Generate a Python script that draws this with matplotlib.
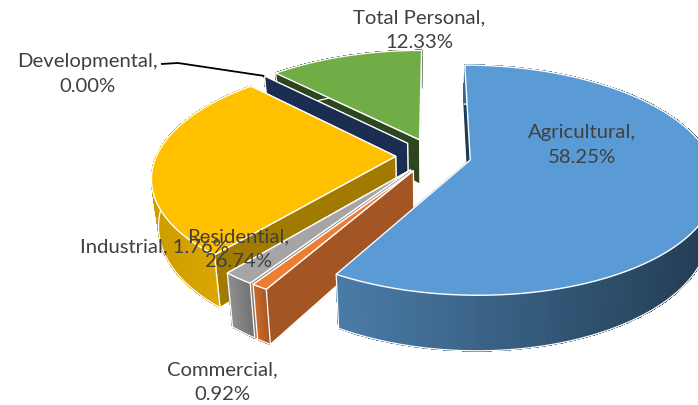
import numpy as np
import matplotlib
matplotlib.use('Agg')
import matplotlib.pyplot as plt
from matplotlib.colors import to_rgb

# pie data, clockwise from the top
names = ['Agricultural', 'Commercial', 'Industrial', 'Residential', 'Developmental', 'Total Personal']
shares = [58.25, 0.92, 1.76, 26.74, 0.00, 12.33]

top_colors = ['#5B9BD5', '#ED7D31', '#A5A5A5', '#FFC000', '#1B2D50', '#70AD47']
side_colors = ['#1F3A52', '#A35623', '#7C7C7C', '#A07B00', '#1B2D50', '#2E4620']
wall_left = ['#4A7BA8', '#C8692A', '#8E8E8E', '#CE9C00', '#1B2D50', '#2E4620']
wall_right = ['#223C52', '#A35623', '#707070', '#E3AC00', '#1B2D50', '#2E4620']

# projection of the tilted pie onto the picture
CX, CY = 433.5, 156.5
R, B = 239.0, 110.0
K = 0.174
D = 45.5
EXPLODE = 0.158


def project(u, v, depth=0.0):
    w = 1 - K * v
    return CX + R * u / w * (1 - 0.025 * depth), CY + B * v / w + depth * D / w


def blend(c1, c2, t):
    a, b = np.array(to_rgb(c1)), np.array(to_rgb(c2))
    return tuple(a + (b - a) * t)


fig = plt.figure(figsize=(6.98, 4.06), dpi=100)
ax = fig.add_axes([0, 0, 1, 1])
ax.set_xlim(0, 698)
ax.set_ylim(406, 0)
ax.axis('off')

edges = np.cumsum([0] + shares) / 100 * 2 * np.pi
tips = {}


def draw_slice(i, z):
    t0, t1 = edges[i], edges[i + 1]
    mid = (t0 + t1) / 2
    du, dv = EXPLODE * np.sin(mid), -EXPLODE * np.cos(mid)
    t = np.linspace(t0, t1, 160)
    u = du + np.sin(t)
    v = dv - np.cos(t)
    ax_, ay_ = project(du, dv)
    bx_, by_ = project(du, dv, 1)
    x0, y0 = project(u, v)
    x1, y1 = project(u, v, 1)
    tips[i] = (x0[-1], y0[-1])

    # radial walls, the blue one is only a thin dark sliver so no white edge there
    wall_edge = side_colors[i] if i == 0 else 'white'
    for k in [-1, 0]:
        ax.fill([ax_, x0[k], x1[k], bx_], [ay_, y0[k], y1[k], by_], fc=side_colors[i],
                ec=wall_edge, lw=0.9, zorder=z)

    # outer wall with gradient along x
    span = max(x0.max() - x0.min(), 1)
    for j in range(len(t) - 1):
        frac = ((x0[j] + x0[j + 1]) / 2 - x0.min()) / span
        col = blend(wall_left[i], wall_right[i], frac)
        ax.fill([x0[j], x0[j + 1], x1[j + 1], x1[j]], [y0[j], y0[j + 1], y1[j + 1], y1[j]],
                fc=col, ec=col, lw=0.6, antialiased=False, zorder=z + 0.1)
    if i != 0:
        ax.plot([x0[0], x1[0]], [y0[0], y1[0]], color='white', lw=0.9, zorder=z + 0.2)
    ax.plot([x0[-1], x1[-1]], [y0[-1], y1[-1]], color='white', lw=0.9, zorder=z + 0.2)
    ax.plot(x1, y1, color='white', lw=0.9, zorder=z + 0.2)

    # top face
    if shares[i] > 0:
        ax.fill(np.r_[ax_, x0], np.r_[ay_, y0], fc=top_colors[i], ec='white', lw=1.0,
                joinstyle='miter', zorder=z + 0.3)


# back to front: green, navy, yellow, gray, orange, blue
for z, i in enumerate([5, 4, 3, 2, 1, 0]):
    draw_slice(i, z + 1)

# leader line of the Developmental label
lx, ly = tips[4]
ax.plot([161, 178, lx], [65, 64, ly], color='black', lw=1.3, solid_capstyle='butt', zorder=30)

label_style = dict(family=['Lato', 'DejaVu Sans'], fontsize=14.6, color='#404040', ha='center',
                   va='center', linespacing=1.58, zorder=40)
ax.text(582, 145, f'{names[0]},\n{shares[0]:.2f}%', **label_style)
ax.text(222, 382, f'{names[1]},\n{shares[1]:.2f}%', **label_style)
ax.text(154, 247, f'{names[2]}, {shares[2]:.2f}%', **label_style)
ax.text(238, 249, f'{names[3]},\n{shares[3]:.2f}%', **label_style)
ax.text(87, 74, f'{names[4]},\n{shares[4]:.2f}%', **label_style)
ax.text(419, 30, f'{names[5]},\n{shares[5]:.2f}%', **label_style)

fig.savefig('out.png', dpi=100)
